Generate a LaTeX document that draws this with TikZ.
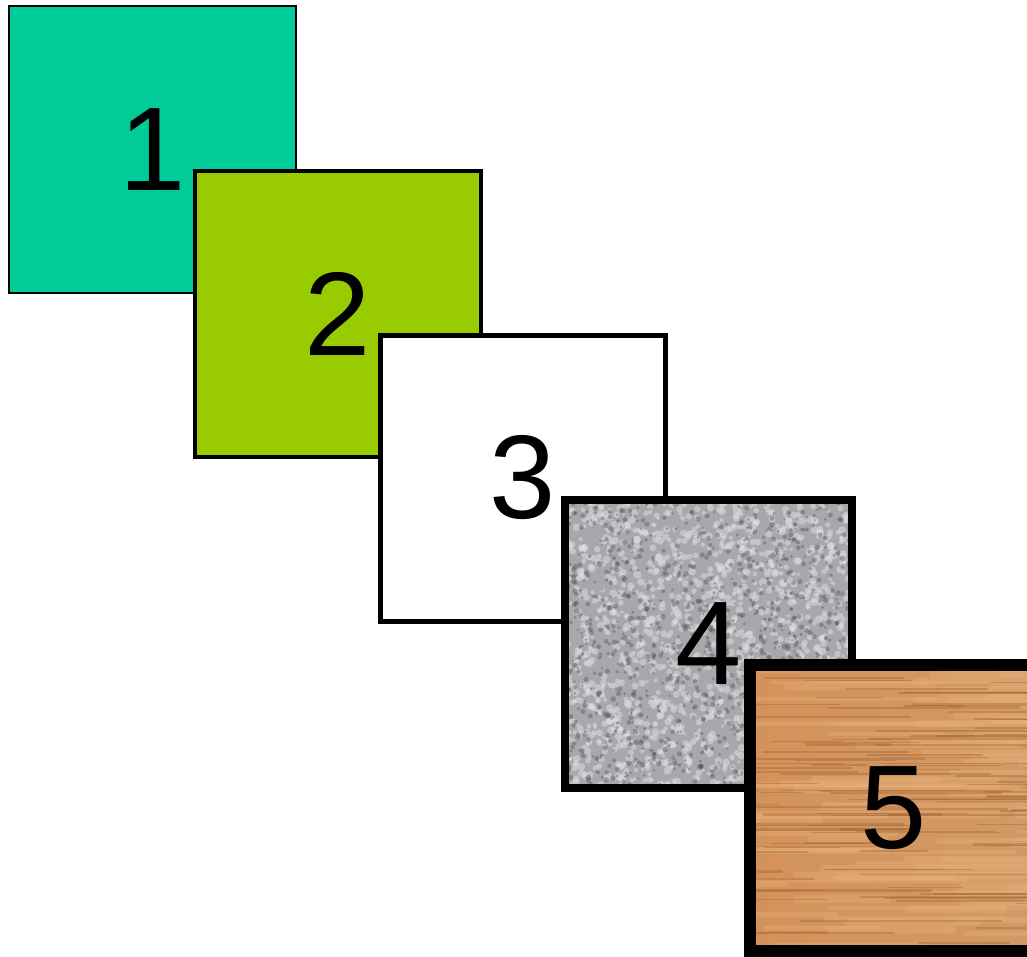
\documentclass[tikz,border=0pt]{standalone}
\usepackage{fontspec}
\setmainfont{Liberation Sans}
\definecolor{tealA}{RGB}{0,204,153}
\definecolor{limeB}{RGB}{153,204,0}
\definecolor{stoneBase}{RGB}{168,168,172}
\definecolor{stoneLight}{RGB}{225,225,228}
\definecolor{stoneDark}{RGB}{80,80,86}
\definecolor{woodL}{RGB}{212,146,90}
\definecolor{woodR}{RGB}{208,154,102}
\definecolor{woodDark}{RGB}{155,92,42}
\definecolor{woodLight}{RGB}{232,178,124}
\begin{document}
\begin{tikzpicture}[x=1pt,y=-1pt,
  frame/.style={draw=black, line join=miter},
  num/.style={font=\fontsize{119}{119}\selectfont, inner sep=0pt, anchor=center, text=black}]
\useasboundingbox (0,0) rectangle (1027,957);
\clip (0,0) rectangle (1027,957);
% square 1
\fill[tealA] (9,6) rectangle (296,293);
\draw[frame, line width=2.5pt] (9,6) rectangle (296,293);
\node[num] (n1) at (152.5,149.5) {1};
% square 2
\fill[limeB] (195,171) rectangle (481,457);
\draw[frame, line width=4pt] (195,171) rectangle (481,457);
\node[num] (n2) at (338,314) {2};
% square 3
\fill[white] (380,335) rectangle (665,621);
\draw[frame, line width=5pt] (380,335) rectangle (665,621);
\node[num] (n3) at (522.5,478) {3};
% square 4 (stone)
\begin{scope}
\clip (565,500) rectangle (852,788);
\fill[stoneBase] (565,500) rectangle (852,788);
\pgfmathsetseed{42}
\foreach \i in {1,...,1500}{
  \pgfmathsetmacro\px{565+287*rnd}
  \pgfmathsetmacro\py{500+288*rnd}
  \pgfmathsetmacro\pr{1.8+2.2*rnd}
  \fill[stoneLight, opacity=0.5] (\px,\py) circle (\pr);
}
\foreach \i in {1,...,1100}{
  \pgfmathsetmacro\px{565+287*rnd}
  \pgfmathsetmacro\py{500+288*rnd}
  \pgfmathsetmacro\pr{1.2+1.6*rnd}
  \fill[stoneDark, opacity=0.4] (\px,\py) circle (\pr);
}
\end{scope}
\draw[frame, line width=8pt] (565,500) rectangle (852,788);
\node[num] (n4) at (708.5,644) {4};
% square 5 (wood)
\begin{scope}
\clip (750,665) rectangle (1037,951);
\shade[left color=woodL, right color=woodR] (750,665) rectangle (1037,951);
\pgfmathsetseed{7}
\foreach \i in {1,...,90}{
  \pgfmathsetmacro\py{665+286*rnd}
  \pgfmathsetmacro\px{700+330*rnd}
  \pgfmathsetmacro\pl{60+200*rnd}
  \pgfmathsetmacro\pw{3+5*rnd}
  \draw[woodLight, opacity=0.35, line width=\pw pt, line cap=round] (\px,\py) -- ++(\pl,0);
}
\foreach \i in {1,...,110}{
  \pgfmathsetmacro\py{665+286*rnd}
  \pgfmathsetmacro\px{700+330*rnd}
  \pgfmathsetmacro\pl{40+180*rnd}
  \pgfmathsetmacro\pw{0.8+1.8*rnd}
  \draw[woodDark, opacity=0.35, line width=\pw pt, line cap=round] (\px,\py) -- ++(\pl,0);
}
\end{scope}
\draw[frame, line width=12pt] (750,665) rectangle (1037,951);
\node[num] (n5) at (893.5,808) {5};
\end{tikzpicture}
\end{document}
